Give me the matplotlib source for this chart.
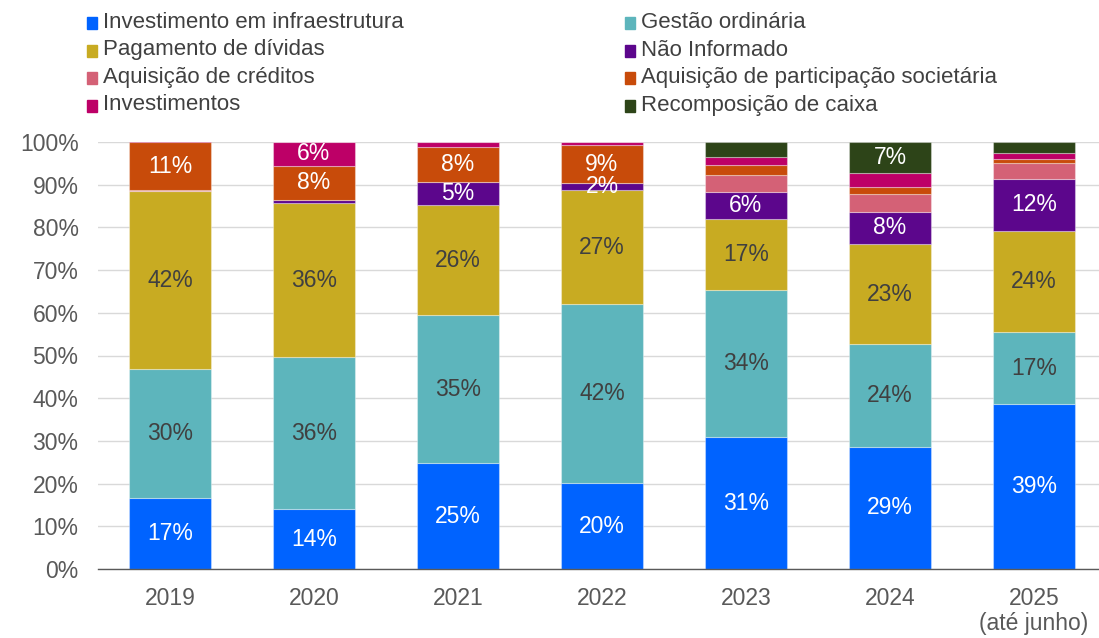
import matplotlib
matplotlib.use("Agg")
import matplotlib.pyplot as plt
from matplotlib.patches import Rectangle
import numpy as np

plt.rcParams['font.family'] = ['Liberation Sans', 'DejaVu Sans']

years = ["2019", "2020", "2021", "2022", "2023", "2024", "2025\n(até junho)"]
series_names = [
    "Investimento em infraestrutura",
    "Gestão ordinária",
    "Pagamento de dívidas",
    "Não Informado",
    "Aquisição de créditos",
    "Aquisição de participação societária",
    "Investimentos",
    "Recomposição de caixa",
]
infraestrutura = [16.6, 14.0, 24.8, 20.1, 30.9, 28.6, 38.6]
gestao         = [30.2, 35.6, 34.6, 42.0, 34.4, 24.1, 16.9]
dividas        = [41.7, 36.0, 25.9, 26.6, 16.7, 23.4, 23.7]
nao_informado  = [0.0, 0.9, 5.3, 1.6, 6.2, 7.6, 12.2]
creditos       = [0.2, 0.0, 0.0, 0.0, 4.1, 4.1, 3.6]
participacao   = [11.2, 7.9, 8.3, 9.0, 2.3, 1.7, 1.1]
investimentos  = [0.3, 5.6, 1.1, 0.7, 2.0, 3.3, 1.3]
recomposicao   = [0.0, 0.0, 0.0, 0.0, 3.4, 7.2, 2.6]

colors = ["#0063FF", "#5DB5BC", "#C8AB22", "#5C068C", "#D46176", "#C84B0A", "#BD0067", "#2D4418"]
label_colors = ["white", "#404040", "#404040", "white", "white", "white", "white", "white"]
# segments that carry a value label besides the threshold rule: (series index, year index)
extra_labels = {(3, 3)}
label_threshold = 4.5
skip_labels = {(4, 4), (4, 5)}

data = [infraestrutura, gestao, dividas, nao_informado, creditos, participacao, investimentos, recomposicao]

fig = plt.figure(figsize=(10.99, 6.38), dpi=100)
ax = fig.add_axes([98/1099, 69/638, 1001/1099, (569-142)/638])

x = np.arange(len(years))
bottom = np.zeros(len(years))
for si, vals in enumerate(data):
    vals = np.array(vals)
    ax.bar(x, vals, width=0.565, bottom=bottom, color=colors[si],
           edgecolor=(1, 1, 1, 0.35), linewidth=0.8, zorder=3)
    for yi, v in enumerate(vals):
        show = (v >= label_threshold and (si, yi) not in skip_labels) or (si, yi) in extra_labels
        if show:
            ax.text(x[yi], bottom[yi] + v/2, f"{round(v):.0f}%", ha="center", va="center",
                    fontsize=16.5, color=label_colors[si], zorder=5)
    bottom += vals

ax.set_xlim(-0.5, (1099-98)/144 - 0.5)
ax.set_ylim(0, 100)
ax.set_yticks(np.arange(0, 101, 10))
ax.set_yticklabels([f"{v}%" for v in range(0, 101, 10)])
ax.set_xticks(x)
ax.set_xticklabels(years, linespacing=1.12)
ax.tick_params(axis="both", length=0, labelsize=16.5, colors="#595959")
ax.tick_params(axis="x", pad=13)
ax.tick_params(axis="y", pad=14)
ax.grid(axis="y", color="#D9D9D9", linewidth=1, zorder=0)
for s in ["top", "right", "left"]:
    ax.spines[s].set_visible(False)
ax.spines["bottom"].set_color("#595959")
ax.spines["bottom"].set_linewidth(1)
ax.spines["bottom"].set_zorder(4)

# legend (row-major, two columns)
col_x = [87, 625]
row_y = [22, 50, 77, 105]
for i, name in enumerate(series_names):
    r, c = divmod(i, 2)
    px, py = col_x[c], row_y[r]
    fig.patches.append(Rectangle((px/1099, 1 - (py+7)/638), 10/1099, 12/638,
                                 transform=fig.transFigure, color=colors[i]))
    fig.text((px+16)/1099, 1 - py/638, name, ha="left", va="center",
             fontsize=16, color="#404040")

fig.savefig("out.png", dpi=100)
